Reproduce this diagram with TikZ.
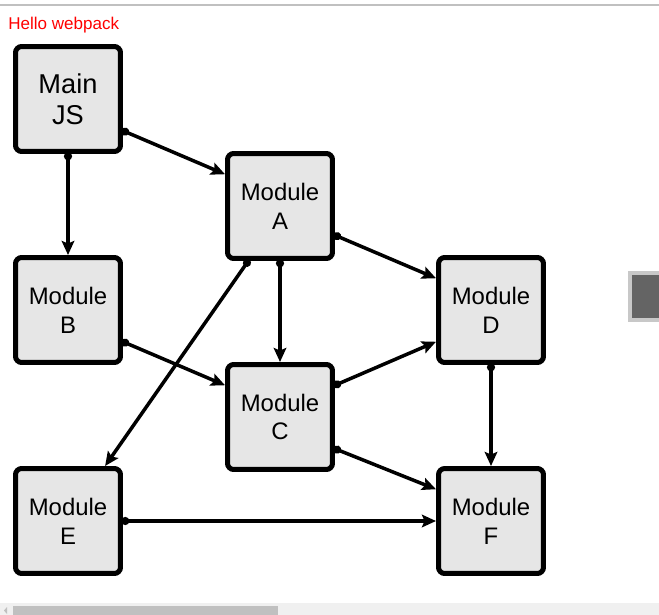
\documentclass[tikz,border=0pt]{standalone}
\usepackage{fontspec}
\setmainfont{Liberation Sans}
\usepackage{xcolor}
\usepackage{tikz}
\usetikzlibrary{arrows.meta,positioning,calc}

\definecolor{boxgray}{HTML}{E6E6E6}
\definecolor{bargray}{HTML}{C0C0C0}
\definecolor{trackgray}{HTML}{F0F0F0}
\definecolor{btngray}{HTML}{646464}
\definecolor{btnedge}{HTML}{C8C8C8}

\begin{document}
\begin{tikzpicture}[
    x=0.02cm, y=-0.02cm,
    module/.style={rectangle, draw=black, fill=boxgray, line width=0.1cm, rounded corners=3.5pt,
        minimum width=2.1cm, minimum height=2.1cm, align=center, font=\fontsize{13.6}{16.4}\selectfont},
    link/.style={{Circle[length=1.6mm]}-{Stealth[length=2.8mm,width=2.5mm,inset=0.5mm]}, line width=2pt, shorten <=-0.035cm}
]
% page frame
\useasboundingbox (0,0) rectangle (659,615);
\fill[white] (0,0) rectangle (659,615);
\draw[bargray, line width=0.6pt] (0,5) -- (659,5);
\node[anchor=base west, inner sep=0, text=red, font=\fontsize{9.7}{11}\selectfont] (title) at (8,30) {Hello webpack};

% scrollbar and side button
\fill[trackgray] (0,603) rectangle (659,615);
\fill[bargray] (13,606) rectangle (278,615);
\fill[bargray] (7,607) -- (7,614) -- (4,610.5) -- cycle;
\fill[btnedge] (628,271) rectangle (659,322);
\fill[btngray] (632,275) rectangle (659,318);

% modules
\node[module, font=\fontsize{15.5}{17.6}\selectfont] (main) at (68,99) {Main\\JS};
\node[module] (a) at (280,206) {Module\\A};
\node[module] (b) at (68,310) {Module\\B};
\node[module] (c) at (280,417) {Module\\C};
\node[module] (d) at (491,310) {Module\\D};
\node[module] (e) at (68,521) {Module\\E};
\node[module] (f) at (491,521) {Module\\F};

% dependencies
\draw[link] (main.south) -- (b.north);
\draw[link] (main.-30) -- (a.150);
\draw[link] (a.south) -- (c.north);
\draw[link] (a.-28) -- (d.150);
\draw[link] (a.-120) -- (e.56);
\draw[link] (b.-30) -- (c.150);
\draw[link] (c.30) -- (d.-150);
\draw[link] (c.-30) -- (f.150);
\draw[link] (d.south) -- (f.north);
\draw[link] (e.east) -- (f.west);
\end{tikzpicture}
\end{document}
